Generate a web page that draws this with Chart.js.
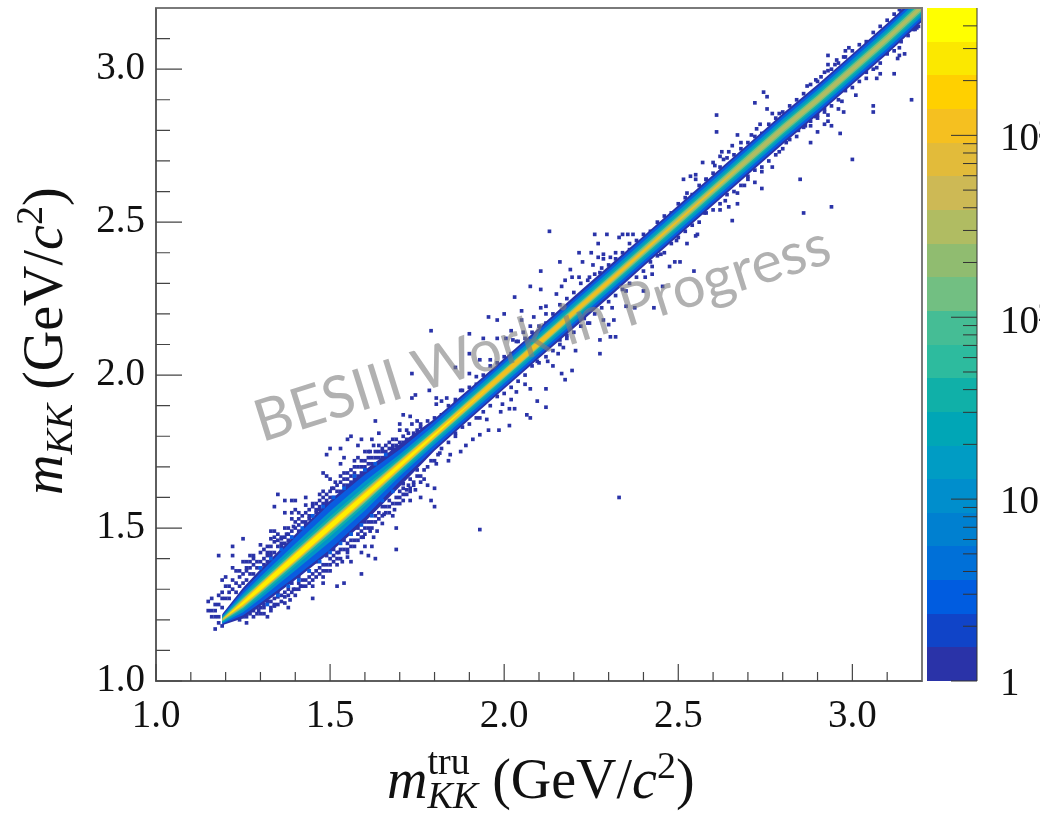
<!DOCTYPE html>
<html>
<head>
<meta charset="utf-8">
<title>m_KK resolution</title>
<script src="https://cdn.jsdelivr.net/npm/chart.js@4"></script>
<style>
  html, body { margin: 0; padding: 0; background: #fff; }
  canvas { display: block; filter: blur(0.45px); }
</style>
</head>
<body>
<canvas id="myChart" width="1040" height="814"></canvas>
<script>
// axis ticks
const xLabels = [1.0, 1.5, 2.0, 2.5, 3.0];
const yLabels = [1.0, 1.5, 2.0, 2.5, 3.0];
const minorTicks = [1.1, 1.2, 1.3, 1.4, 1.6, 1.7, 1.8, 1.9, 2.1, 2.2, 2.3, 2.4, 2.6, 2.7, 2.8, 2.9, 3.1];
const zMajor = [1, 10, 100, 1000];
const zMinor = [2, 3, 4, 5, 6, 7, 8, 9, 20, 30, 40, 50, 60, 70, 80, 90, 200, 300, 400, 500, 600, 700, 800, 900, 2000, 3000, 4000];

// colour bar, bottom to top
const paletteEdges = [1, 1.53, 2.34, 3.59, 5.5, 8.4, 12.9, 19.7, 30.2, 46.2, 70.8, 108, 166, 254, 389, 596, 912, 1397, 2139, 3275, 5015];
const paletteColors = ['#2a33a8', '#1044c8', '#005ce0', '#0070d8', '#0080d0', '#008ecc', '#009cc4', '#00a6b6', '#10b0a8', '#2dbb9e',
  '#45bd95', '#72bf82', '#90bc70', '#b0bc62', '#cdb955', '#e2bb3a', '#f5c020', '#ffd000', '#fbe800', '#ffff00'];

// core of the band: centre and half heights of each contour
const bandX = [1.19, 1.25, 1.3, 1.4, 1.5, 1.6, 1.7, 1.8, 1.9, 2.0, 2.1, 2.2, 2.3, 2.4, 2.5, 2.6, 2.7, 2.8, 2.9, 3.0, 3.1, 3.2];
const bandMid = [1.2, 1.255, 1.305, 1.405, 1.505, 1.605, 1.705, 1.805, 1.905, 2.005, 2.105, 2.205, 2.305, 2.405, 2.505, 2.605, 2.705, 2.805, 2.9, 3.0, 3.1, 3.205];
const widthDark = [.018, .05, .06, .075, .085, .085, .07, .052, .05, .05, .05, .052, .052, .05, .05, .05, .05, .05, .05, .05, .05, .05];
const widthBlue = [.014, .04, .05, .065, .075, .07, .052, .044, .042, .042, .042, .042, .042, .042, .042, .042, .042, .042, .042, .042, .042, .042];
const widthAzure = [.011, .03, .036, .044, .05, .048, .036, .032, .032, .032, .032, .032, .032, .032, .032, .032, .032, .032, .032, .032, .032, .032];
const widthTeal = [.008, .022, .026, .03, .033, .032, .026, .022, .022, .022, .022, .022, .022, .022, .022, .022, .022, .022, .022, .022, .022, .022];
const widthGreen = [.005, .016, .018, .021, .022, .022, .018, .015, .015, .015, .015, .015, .015, .015, .015, .015, .015, .015, .015, .015, .015, .015];
const widthOlive = [.003, .012, .014, .016, .017, .017, .015, .012, .012, .012, .012, .011, .011, .01, .01, .01, .009, .009, .009, .009, .008, .008];
const widthOrange = [0, .01, .012, .014, .014, .014, .012, .01, .009, .009, .009, .008, .007, .005, .004, .003, 0, 0, 0, 0, 0, 0];
const widthYellow = [0, .005, .008, .01, .01, .009, .007, .004, .001, 0, 0, 0, 0, 0, 0, 0, 0, 0, 0, 0, 0, 0];

// single low count bins
const sparseLow = [
  [1.15,1.26],[1.16,1.27],[1.15,1.23],[1.16,1.23],[1.17,1.23],[1.17,1.25],[1.18,1.25],[1.18,1.28],[1.19,1.29],[1.19,1.27],[1.16,1.21],[1.17,1.21],[1.18,1.21],[1.18,1.19],[1.17,1.17],[1.19,1.18],[1.2,1.31],[1.19,1.33],[1.2,1.34],[1.21,1.31],[1.19,1.24],[1.2,1.27],[1.21,1.29],
  [1.18,1.41],[1.22,1.44],[1.22,1.41],[1.25,1.465],[1.35,1.61],[1.37,1.59],[1.39,1.59],[1.4,1.59],[1.34,1.57],[1.37,1.55],[1.39,1.55],[1.4,1.56],[1.39,1.53],[1.33,1.49],[1.34,1.49],
  [1.48,1.68],[1.49,1.67],[1.5,1.66],[1.49,1.74],[1.5,1.76],[1.53,1.76],[1.53,1.71],[1.54,1.73],[1.56,1.8],[1.55,1.79],[1.59,1.79],[1.58,1.77],[1.62,1.79],[1.63,1.85],[1.64,1.81],
  [1.22,1.37],[1.23,1.36],[1.25,1.39],[1.26,1.39],[1.27,1.41],[1.28,1.41],[1.31,1.43],[1.3,1.445],[1.32,1.41],[1.33,1.465],[1.34,1.455],[1.36,1.465],[1.375,1.48],[1.37,1.5],[1.395,1.505],[1.41,1.53],[1.43,1.575],[1.43,1.6],[1.45,1.57],[1.47,1.57],[1.47,1.61],[1.48,1.62],[1.49,1.59],[1.485,1.57],[1.505,1.63],[1.515,1.65],[1.53,1.65],[1.54,1.68],[1.56,1.69],[1.57,1.72],[1.58,1.73],[1.6,1.72],[1.6,1.75],[1.615,1.75],[1.625,1.77],[1.64,1.75],[1.65,1.73],[1.66,1.77],[1.68,1.79],[1.7,1.84],[1.7,1.82],[1.71,1.8],[1.735,1.84],[1.75,1.82],[1.725,1.81],
  [1.24,1.34],[1.26,1.36],[1.28,1.38],[1.3,1.39],[1.33,1.42],[1.36,1.45],[1.38,1.46],[1.41,1.49],[1.43,1.51],[1.44,1.54],[1.46,1.55],[1.48,1.58],[1.5,1.6],[1.52,1.62],[1.54,1.64],[1.55,1.66],[1.57,1.68],[1.59,1.7],[1.61,1.71],[1.63,1.73],[1.66,1.75],[1.68,1.76],
  [1.25,1.21],[1.28,1.23],[1.295,1.23],[1.31,1.24],[1.34,1.245],[1.37,1.255],[1.35,1.275],[1.37,1.275],[1.385,1.265],[1.395,1.3],[1.375,1.32],[1.355,1.315],[1.415,1.31],[1.43,1.33],[1.45,1.33],[1.48,1.32],[1.48,1.34],[1.46,1.36],[1.48,1.36],[1.5,1.38],[1.52,1.38],[1.535,1.39],[1.55,1.405],[1.525,1.42],[1.55,1.43],[1.56,1.44],[1.59,1.42],[1.61,1.41],[1.6,1.44],[1.62,1.44],[1.595,1.47],[1.625,1.47],[1.615,1.49],[1.635,1.49],[1.65,1.515],[1.68,1.54],[1.655,1.545],[1.685,1.56],[1.71,1.59],[1.73,1.59],[1.72,1.625],[1.745,1.625],[1.71,1.645],[1.725,1.64],[1.77,1.69],[1.8,1.72],[1.805,1.71],[1.84,1.72],[1.815,1.745],
  [1.32,1.21],[1.38,1.24],[1.45,1.27],[1.52,1.31],[1.54,1.32],[1.59,1.35],[1.69,1.43],[1.69,1.5],[1.63,1.4],[1.56,1.39],[1.8,1.57],[1.76,1.6],[1.79,1.59],[1.8,1.63],[1.78,1.64],[1.76,1.65],[1.77,1.66],[1.75,1.67],
  [1.3,1.24],[1.33,1.26],[1.35,1.29],[1.39,1.32],[1.41,1.34],[1.44,1.36],[1.46,1.39],[1.49,1.41],[1.51,1.43],[1.54,1.46],[1.56,1.48],[1.58,1.5],[1.6,1.52],[1.63,1.54],[1.65,1.57],[1.67,1.59],[1.7,1.62],[1.73,1.66],[1.75,1.69],
  [1.22,1.3],[1.23,1.32],[1.24,1.31],[1.25,1.35],[1.26,1.33],[1.27,1.37],[1.28,1.35],[1.29,1.39],[1.3,1.37],[1.31,1.4],[1.32,1.39],[1.33,1.44],[1.34,1.42],[1.35,1.46],[1.36,1.44],[1.37,1.47],[1.38,1.48],[1.39,1.47],[1.4,1.52],[1.41,1.51],[1.42,1.54],[1.43,1.52],[1.44,1.56],[1.45,1.54],[1.46,1.58],[1.47,1.56],[1.48,1.6],[1.49,1.58],[1.5,1.62],[1.51,1.6],[1.52,1.64],[1.53,1.62],[1.54,1.66],[1.55,1.64],[1.56,1.67],[1.57,1.66],[1.58,1.7],[1.59,1.68],[1.6,1.7],[1.61,1.73],[1.62,1.71],[1.63,1.75],[1.64,1.73],[1.65,1.76],[1.66,1.74],[1.67,1.78],[1.68,1.77],[1.69,1.79],[1.7,1.78],[1.72,1.79],[1.74,1.81],[1.76,1.84],[1.78,1.85],
  [1.24,1.2],[1.26,1.21],[1.27,1.22],[1.29,1.24],[1.3,1.22],[1.31,1.25],[1.32,1.26],[1.33,1.24],[1.34,1.27],[1.36,1.28],[1.37,1.29],[1.38,1.3],[1.4,1.3],[1.41,1.32],[1.42,1.33],[1.43,1.31],[1.44,1.34],[1.45,1.35],[1.47,1.37],[1.48,1.38],[1.49,1.36],[1.5,1.4],[1.51,1.41],[1.52,1.4],[1.53,1.43],[1.55,1.45],[1.57,1.46],[1.58,1.48],[1.59,1.47],[1.6,1.5],[1.61,1.5],[1.62,1.52],[1.64,1.53],[1.66,1.55],[1.67,1.57],[1.69,1.58],[1.7,1.6],[1.71,1.61],[1.73,1.63],[1.74,1.65],[1.76,1.67],[1.78,1.7],[1.79,1.72],[1.81,1.74],
  [1.21,1.27],[1.22,1.33],[1.23,1.29],[1.24,1.36],[1.25,1.32],[1.26,1.37],[1.27,1.35],[1.27,1.39],[1.28,1.4],[1.29,1.37],[1.3,1.42],[1.31,1.38],[1.32,1.44],[1.32,1.42],[1.33,1.41],[1.34,1.47],[1.35,1.44],[1.35,1.48],[1.36,1.47],[1.37,1.45],[1.38,1.5],[1.39,1.49],[1.4,1.5],[1.41,1.55],[1.42,1.52],[1.43,1.55],[1.44,1.53],[1.45,1.58],[1.46,1.56],[1.47,1.59],[1.48,1.56],[1.49,1.61],[1.5,1.58],[1.51,1.63],[1.52,1.6],[1.53,1.67],[1.54,1.62],[1.55,1.68],[1.56,1.65],[1.57,1.7],[1.58,1.67],[1.59,1.72],[1.6,1.69],[1.61,1.75],[1.62,1.73],[1.63,1.71],[1.64,1.77],[1.65,1.75],[1.66,1.72],[1.67,1.76],[1.68,1.75],[1.69,1.77],[1.7,1.76],[1.71,1.78],[1.72,1.82],
  [1.26,1.19],[1.28,1.21],[1.29,1.22],[1.31,1.22],[1.33,1.23],[1.34,1.25],[1.35,1.25],[1.36,1.26],[1.38,1.28],[1.39,1.29],[1.4,1.28],[1.41,1.3],[1.42,1.31],[1.44,1.32],[1.45,1.31],[1.46,1.34],[1.47,1.35],[1.49,1.38],[1.5,1.36],[1.51,1.39],[1.52,1.42],[1.53,1.4],[1.54,1.43],[1.55,1.42],[1.56,1.46],[1.57,1.44],[1.58,1.46],[1.59,1.49],[1.6,1.48],[1.61,1.52],[1.62,1.5],[1.63,1.52],[1.64,1.55],[1.65,1.54],[1.66,1.57],[1.67,1.55],[1.68,1.58],[1.69,1.6],[1.7,1.58],[1.71,1.63],[1.72,1.61],[1.73,1.62],[1.74,1.64]
];
const sparseMid = [
  [2.13,2.47],[2.16,2.37],[2.105,2.34],[2.19,2.345],[2.075,2.29],[2.105,2.28],[2.03,2.255],[1.955,2.19],[1.98,2.18],[2.0,2.2],[1.79,2.145],[1.9,2.135],[1.94,2.12],[1.98,2.12],[2.005,2.12],[2.025,2.115],[2.05,2.21],[2.05,2.18],[2.085,2.19],[2.105,2.22],[2.12,2.2],[2.12,2.225],[2.15,2.265],[2.165,2.29],[2.175,2.31],[2.195,2.32],[2.215,2.32],[2.225,2.37],[2.215,2.4],[2.25,2.4],[2.27,2.385],[2.285,2.395],[2.285,2.38],[2.255,2.36],[2.27,2.43],[2.26,2.46],[2.295,2.46],[2.32,2.4],[2.305,2.385],[2.34,2.46],[2.33,2.45],[2.355,2.46],[2.37,2.46],[2.36,2.43],[2.315,2.355],[2.275,2.335],[2.245,2.32],
  [1.9,2.07],[1.93,2.05],[1.96,2.05],[1.86,2.025],[1.9,2.005],[1.92,1.995],[1.785,1.95],[1.735,2.005],[1.745,1.935],[1.735,1.925],[1.805,1.925],[1.82,1.915],[1.835,1.925],[1.805,1.905],[1.875,1.95],[1.86,1.92],[1.71,1.87],[1.73,1.865],[1.75,1.85],[1.76,1.83],[2.02,2.145],[2.035,2.11],[2.055,2.14],[2.075,2.16],
  [2.275,2.07],[2.275,2.115],[2.305,2.125],[2.32,2.125],[2.205,2.08],[2.195,2.015],[2.165,2.005],[2.175,1.985],[2.12,1.955],[2.095,1.915],[2.12,1.895],[2.065,1.87],[2.075,1.86],[2.03,1.89],[2.015,1.89],[2.015,1.835],[1.985,1.82],[1.955,1.82],[2.14,2.03],[2.125,2.045],[2.155,2.07],[2.095,2.045],[2.075,1.955],[2.06,1.97],[2.035,1.945],[2.02,1.92],[1.995,1.905],[1.99,1.88],[1.95,1.855],[1.93,1.86],[1.91,1.79],[1.89,1.77],[1.875,1.75],[1.845,1.74],[1.93,1.805],[1.86,1.81],
  [2.17,2.09],[2.16,2.115],[2.18,2.13],[2.19,2.155],[2.245,2.17],[2.23,2.185],[2.3,2.165],[2.285,2.18],[2.315,2.18],[2.31,2.22],[2.35,2.225],[2.375,2.22],[2.43,2.22],[2.4,2.275],[2.35,2.275],[2.405,2.32],[2.455,2.29],[2.425,2.33],[2.425,2.355],[2.475,2.355],[2.49,2.37],[2.505,2.37],[2.545,2.34],[2.45,2.395],[2.495,2.44],[2.525,2.43],[2.555,2.46],
  [2.33,1.6],[1.93,1.495],
  [1.8,1.86],[1.82,1.87],[1.84,1.9],[1.86,1.91],[1.88,1.95],[1.9,1.96],[1.92,1.97],[1.94,2.0],[1.96,2.03],[1.98,2.04],[2.0,2.06],[2.02,2.07],[2.04,2.11],[2.06,2.12],[2.08,2.14],[2.1,2.16],[2.12,2.17],[2.14,2.2],[2.16,2.23],[2.18,2.25],[2.2,2.27],[2.22,2.3],[2.24,2.31],[2.26,2.33],[2.28,2.35],[2.3,2.36],[2.32,2.38],[2.34,2.4],[2.36,2.41],[2.38,2.44],[2.4,2.46],[2.42,2.47],[2.44,2.5],[2.46,2.52],[2.48,2.53],[2.5,2.56],
  [1.82,1.76],[1.84,1.78],[1.86,1.8],[1.88,1.83],[1.9,1.84],[1.92,1.86],[1.94,1.88],[1.96,1.9],[1.98,1.93],[2.0,1.94],[2.02,1.96],[2.04,1.98],[2.06,2.0],[2.08,2.03],[2.1,2.04],[2.12,2.06],[2.14,2.08],[2.16,2.1],[2.18,2.12],[2.2,2.14],[2.22,2.16],[2.24,2.17],[2.26,2.2],[2.28,2.22],[2.3,2.24],[2.32,2.26],[2.34,2.28],[2.36,2.3],[2.38,2.32],[2.4,2.34],[2.42,2.37],[2.44,2.39],[2.46,2.4],[2.48,2.43],[2.5,2.45]
];
const sparseHigh = [
  [2.61,2.85],[2.61,2.795],[2.72,2.89],[2.745,2.925],[2.755,2.91],[2.755,2.87],[2.67,2.785],[2.655,2.75],[2.68,2.76],[2.625,2.73],[2.645,2.73],[2.62,2.715],[2.63,2.705],[2.57,2.695],[2.6,2.695],[2.605,2.685],[2.55,2.655],[2.535,2.65],[2.515,2.64],[2.55,2.64],[2.58,2.64],[2.525,2.595],[2.735,2.82],[2.725,2.805],[2.71,2.785],[2.77,2.855],[2.79,2.855],[2.87,2.945],[2.895,2.965],[2.91,2.975],[2.93,3.045],[2.93,3.015],[2.93,2.995],[2.95,3.015],[2.955,3.03],[2.98,3.06],[2.99,3.07],[2.975,3.04],[3.135,3.195],
  [3.17,2.9],[3.06,2.88],[3.06,2.86],[3.01,2.915],[2.97,2.895],[2.96,2.87],[2.975,2.86],[2.94,2.815],[2.965,2.79],[3.0,2.705],[2.93,2.85],[2.93,2.83],[2.92,2.86],[2.9,2.85],[2.895,2.845],[2.92,2.82],[2.9,2.795],[2.88,2.76],[2.88,2.815],[2.865,2.815],[2.85,2.64],[2.94,2.55],[2.86,2.53],[2.77,2.68],[2.74,2.665],[2.79,2.73],[2.81,2.76],[2.845,2.8],[2.72,2.63],[2.74,2.61],[2.67,2.595],[2.67,2.56],[2.655,2.505],[2.645,2.55],[2.635,2.57],[2.62,2.54],[2.55,2.455],[2.525,2.49],[2.575,2.53],[2.7,2.65],[2.69,2.62],
  [3.135,3.07],[3.15,3.05],[3.135,3.045],[3.13,3.035],[3.12,2.985],[3.08,2.985],[3.07,2.97],[3.04,2.97],[3.07,3.005],[3.04,3.005],[3.01,3.02],[3.185,3.135],[3.175,3.13],[3.19,3.14],
  [2.52,2.58],[2.54,2.59],[2.56,2.62],[2.58,2.64],[2.6,2.66],[2.62,2.68],[2.64,2.71],[2.66,2.72],[2.68,2.74],[2.7,2.76],[2.72,2.78],[2.74,2.79],[2.76,2.82],[2.78,2.84],[2.8,2.86],[2.82,2.88],[2.84,2.9],[2.86,2.92],[2.88,2.95],[2.9,2.96],[2.92,2.99],[2.94,3.0],[2.96,3.02],[2.98,3.04],[3.0,3.06],[3.02,3.08],[3.04,3.09],[3.06,3.12],[3.08,3.14],[3.1,3.16],[3.12,3.18],[3.14,3.19],
  [2.52,2.47],[2.54,2.49],[2.56,2.5],[2.58,2.53],[2.6,2.54],[2.62,2.56],[2.64,2.59],[2.66,2.6],[2.68,2.62],[2.7,2.64],[2.72,2.67],[2.74,2.68],[2.76,2.7],[2.78,2.72],[2.8,2.74],[2.82,2.77],[2.84,2.78],[2.86,2.81],[2.88,2.83],[2.9,2.84],[2.92,2.87],[2.94,2.88],[2.96,2.9],[2.98,2.93],[3.0,2.94],[3.02,2.96],[3.04,2.99],[3.06,3.0],[3.08,3.02],[3.1,3.05],[3.12,3.06],[3.14,3.09],[3.16,3.11],[3.18,3.13]
];
// slightly fuller bins along the edge of the wide part
const fullerBins = [
  [1.3,1.37],[1.33,1.4],[1.36,1.43],[1.39,1.47],[1.42,1.5],[1.45,1.54],[1.48,1.57],[1.51,1.6],[1.54,1.63],[1.57,1.67],[1.6,1.69],[1.63,1.71],[1.66,1.74],
  [1.32,1.25],[1.35,1.28],[1.38,1.31],[1.41,1.33],[1.44,1.36],[1.47,1.39],[1.5,1.42],[1.53,1.45],[1.56,1.48],[1.59,1.51],[1.62,1.54],[1.65,1.59],[1.68,1.62]
];

const serif = '"Liberation Serif"';
const tickFont = { family: 'Liberation Serif', size: 39 };

function cellPoints(list) {
  return list.map(c => ({ x: c[0], y: c[1] }));
}

// one contour is a pair of lines with the fill between them
function addLayer(list, widths, color, order) {
  list.push({
    data: bandX.map((x, i) => ({ x: x, y: bandMid[i] - widths[i] })),
    borderWidth: 0, pointRadius: 0, fill: false, order: order
  });
  list.push({
    data: bandX.map((x, i) => ({ x: x, y: bandMid[i] + widths[i] })),
    borderWidth: 0, pointRadius: 0, fill: '-1', backgroundColor: color, order: order
  });
}

const datasets = [];
datasets.push({
  data: cellPoints(sparseLow.concat(sparseMid, sparseHigh)),
  showLine: false, pointStyle: 'rect', pointRadius: 2.6, pointBorderWidth: 0,
  pointBackgroundColor: '#2a33a8', order: 100
});
datasets.push({
  data: cellPoints(fullerBins),
  showLine: false, pointStyle: 'rect', pointRadius: 2.6, pointBorderWidth: 0,
  pointBackgroundColor: '#0a5ce0', order: 85
});
addLayer(datasets, widthDark, '#2a33a8', 90);
addLayer(datasets, widthBlue, '#0a5ce0', 80);
addLayer(datasets, widthAzure, '#0094c8', 70);
addLayer(datasets, widthTeal, '#10b0a8', 60);
addLayer(datasets, widthGreen, '#72bf82', 50);
addLayer(datasets, widthOlive, '#b0bc62', 40);
addLayer(datasets, widthOrange, '#f0c020', 30);
addLayer(datasets, widthYellow, '#ffee00', 20);

function drawRuns(ctx, runs) {
  let pos = 0;
  runs.forEach(r => {
    ctx.font = r.font;
    ctx.fillText(r.text, pos + (r.dx || 0), r.dy || 0);
    if (!r.stay) pos += ctx.measureText(r.text).width + (r.dx || 0);
  });
}

const decorations = {
  id: 'decorations',
  afterDatasetsDraw(chart) {
    const ctx = chart.ctx;
    ctx.save();
    ctx.translate(548, 352);
    ctx.rotate(-17.5 * Math.PI / 180);
    ctx.font = '58px Lato';
    ctx.fillStyle = 'rgba(125,125,125,0.6)';
    ctx.textAlign = 'center';
    ctx.fillText('BESIII Work in Progress', 0, 0);
    ctx.restore();
  },
  afterDraw(chart) {
    const ctx = chart.ctx;
    const xs = chart.scales.x, ys = chart.scales.y, zs = chart.scales.z;
    const area = chart.chartArea;
    ctx.save();

    // frame
    ctx.strokeStyle = '#7a7a7a';
    ctx.lineWidth = 2;
    ctx.strokeRect(area.left, area.top, area.right - area.left, area.bottom - area.top);
    ctx.strokeStyle = '#555';
    ctx.lineWidth = 1.5;
    ctx.beginPath();
    ctx.moveTo(area.left, area.top);
    ctx.lineTo(area.left, area.bottom);
    ctx.lineTo(area.right, area.bottom);
    ctx.stroke();

    // axis ticks
    ctx.lineWidth = 1.2;
    ctx.strokeStyle = '#444';
    ctx.beginPath();
    xLabels.forEach(v => { const p = xs.getPixelForValue(v); ctx.moveTo(p, area.bottom); ctx.lineTo(p, area.bottom - 17); });
    minorTicks.forEach(v => { const p = xs.getPixelForValue(v); ctx.moveTo(p, area.bottom); ctx.lineTo(p, area.bottom - 9); });
    yLabels.forEach(v => { const p = ys.getPixelForValue(v); ctx.moveTo(area.left, p); ctx.lineTo(area.left + 26, p); });
    minorTicks.forEach(v => { const p = ys.getPixelForValue(v); ctx.moveTo(area.left, p); ctx.lineTo(area.left + 14, p); });
    ctx.stroke();

    // colour bar
    const barLeft = 927, barRight = 977;
    paletteColors.forEach((c, i) => {
      const top = Math.round(zs.getPixelForValue(paletteEdges[i + 1]));
      const bottom = Math.round(zs.getPixelForValue(paletteEdges[i]));
      ctx.fillStyle = c;
      ctx.fillRect(barLeft, top, barRight - barLeft, bottom - top);
    });
    ctx.strokeStyle = '#333';
    ctx.lineWidth = 1;
    ctx.beginPath();
    ctx.moveTo(barRight, area.top);
    ctx.lineTo(barRight, area.bottom);
    zMajor.forEach(v => { const p = zs.getPixelForValue(v); ctx.moveTo(barRight, p); ctx.lineTo(barRight - 26, p); });
    zMinor.forEach(v => { const p = zs.getPixelForValue(v); ctx.moveTo(barRight, p); ctx.lineTo(barRight - 14, p); });
    ctx.stroke();

    // colour bar labels, the exponents run off the page
    ctx.fillStyle = '#111';
    ctx.textBaseline = 'alphabetic';
    ctx.font = '39px ' + serif;
    ctx.fillText('1', 1000, 695);
    ctx.fillText('10', 1000, 513);
    ctx.fillText('10', 1000, 333);
    ctx.fillText('10', 1000, 150);
    ctx.font = '26px ' + serif;
    ctx.fillText('2', 1038, 321);
    ctx.fillText('3', 1038, 138);

    // axis titles
    const big = '56px ' + serif, bigItalic = 'italic 56px ' + serif;
    const small = '38px ' + serif, smallItalic = 'italic 38px ' + serif;
    ctx.fillStyle = '#111';
    ctx.save();
    ctx.translate(387, 798);
    drawRuns(ctx, [
      { text: 'm', font: bigItalic },
      { text: 'tru', font: small, dy: -24, stay: true },
      { text: 'KK', font: smallItalic, dy: 10 },
      { text: ' (GeV/', font: big, dx: 0 },
      { text: 'c', font: bigItalic },
      { text: '2', font: small, dy: -20 },
      { text: ')', font: big }
    ]);
    ctx.restore();
    ctx.save();
    ctx.translate(62, 495);
    ctx.rotate(-Math.PI / 2);
    drawRuns(ctx, [
      { text: 'm', font: bigItalic },
      { text: 'KK', font: smallItalic, dy: 10 },
      { text: ' (GeV/', font: big },
      { text: 'c', font: bigItalic },
      { text: '2', font: small, dy: -20 },
      { text: ')', font: big }
    ]);
    ctx.restore();
    ctx.restore();
  }
};

const myChart = new Chart(document.getElementById('myChart'), {
  type: 'line',
  data: { datasets: datasets },
  plugins: [decorations],
  options: {
    responsive: false,
    animation: false,
    layout: { padding: { top: 8, right: 118, left: 0, bottom: 0 } },
    plugins: { legend: { display: false }, tooltip: { enabled: false } },
    elements: { line: { tension: 0 } },
    scales: {
      x: {
        type: 'linear', min: 1, max: 3.2,
        grid: { display: false, drawTicks: false },
        border: { display: false },
        afterFit(s) { s.height = 133; s.paddingLeft = 0; s.paddingRight = 0; },
        afterBuildTicks(s) { s.ticks = xLabels.map(v => ({ value: v })); },
        ticks: { font: tickFont, color: '#111', padding: 12, maxRotation: 0, autoSkip: false, callback: v => v.toFixed(1) }
      },
      y: {
        type: 'linear', min: 1, max: 3.2,
        grid: { display: false, drawTicks: false },
        border: { display: false },
        afterFit(s) { s.width = 156; s.paddingTop = 0; s.paddingBottom = 0; },
        afterBuildTicks(s) { s.ticks = yLabels.map(v => ({ value: v })); },
        ticks: { font: tickFont, color: '#111', padding: 11, autoSkip: false, callback: v => v.toFixed(1) }
      },
      z: { type: 'logarithmic', position: 'right', display: false, min: 1, max: 5015 }
    }
  }
});
</script>
</body>
</html>
